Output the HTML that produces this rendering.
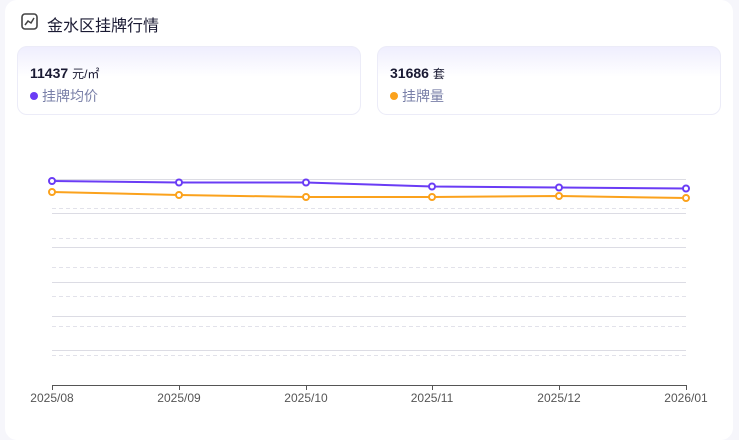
<!DOCTYPE html>
<html><head><meta charset="utf-8"><style>
body{margin:0;width:739px;height:435px;background:#f6f6fb;font-family:"Liberation Sans","Noto Sans CJK SC",sans-serif;overflow:hidden;position:relative}
.card{position:absolute;left:5px;top:0;width:728px;height:440px;background:#fff;border-radius:12px}
.title{position:absolute;left:47px;top:12px;font-size:16px;color:#1a1a33}
.box{position:absolute;top:46px;height:67px;border:1px solid #ececf8;border-radius:10px;background:linear-gradient(#efeefe,#fff 45%)}
.v{position:absolute;left:12px;top:18px;font-size:14px;font-weight:bold;color:#1a1a33}
.v span{font-weight:normal;font-size:12px}
.l{position:absolute;left:12px;top:39px;font-size:14px;color:#7a80a8}
.l i{display:inline-block;width:8px;height:8px;border-radius:50%;margin-right:4px;vertical-align:1px}
</style></head><body>
<div class="card"></div>
<svg width="18" height="18" style="position:absolute;left:21px;top:13px"><rect x="1" y="1" width="15" height="15" rx="3" fill="none" stroke="#444" stroke-width="1.6"/><polyline points="4,12 7,8 10,10 13,5" fill="none" stroke="#444" stroke-width="1.5"/></svg>
<div class="title">金水区挂牌行情</div>
<div class="box" style="left:17px;width:342px"><div class="v">11437 <span>元/㎡</span></div><div class="l"><i style="background:#6a3cf5"></i>挂牌均价</div></div>
<div class="box" style="left:377px;width:342px"><div class="v">31686 <span>套</span></div><div class="l"><i style="background:#fba21c"></i>挂牌量</div></div>
<svg width="739" height="435" style="position:absolute;left:0;top:0">
<g stroke="#dcdce4" stroke-width="1">
<line x1="52" x2="686" y1="179.5" y2="179.5"/><line x1="52" x2="686" y1="213.5" y2="213.5"/><line x1="52" x2="686" y1="247.5" y2="247.5"/><line x1="52" x2="686" y1="282.5" y2="282.5"/><line x1="52" x2="686" y1="316.5" y2="316.5"/><line x1="52" x2="686" y1="350.5" y2="350.5"/>
</g>
<g stroke="#e2e2ea" stroke-width="1" stroke-dasharray="4,3">
<line x1="52" x2="686" y1="208.5" y2="208.5"/><line x1="52" x2="686" y1="238.5" y2="238.5"/><line x1="52" x2="686" y1="267.5" y2="267.5"/><line x1="52" x2="686" y1="296.5" y2="296.5"/><line x1="52" x2="686" y1="326.5" y2="326.5"/><line x1="52" x2="686" y1="355.5" y2="355.5"/>
</g>
<g stroke="#555" stroke-width="1">
<line x1="52" x2="686" y1="385.5" y2="385.5"/>
<line x1="52.5" x2="52.5" y1="385" y2="390"/><line x1="179.5" x2="179.5" y1="385" y2="390"/><line x1="306.5" x2="306.5" y1="385" y2="390"/><line x1="432.5" x2="432.5" y1="385" y2="390"/><line x1="559.5" x2="559.5" y1="385" y2="390"/><line x1="686.5" x2="686.5" y1="385" y2="390"/>
</g>
<g font-size="12" fill="#555" text-anchor="middle" font-family="Liberation Sans,sans-serif">
<text x="52" y="402">2025/08</text><text x="179" y="402">2025/09</text><text x="306" y="402">2025/10</text><text x="432" y="402">2025/11</text><text x="559" y="402">2025/12</text><text x="686" y="402">2026/01</text>
</g>
<polyline points="52,192 179,195 306,197 432,197 559,196 686,198" fill="none" stroke="#fba21c" stroke-width="2"/>
<polyline points="52,181 179,182.5 306,182.5 432,186.5 559,187.5 686,188.5" fill="none" stroke="#6a3cf5" stroke-width="2"/>
<g fill="#fff" stroke="#fba21c" stroke-width="2"><circle cx="52" cy="192" r="3"/><circle cx="179" cy="195" r="3"/><circle cx="306" cy="197" r="3"/><circle cx="432" cy="197" r="3"/><circle cx="559" cy="196" r="3"/><circle cx="686" cy="198" r="3"/></g>
<g fill="#fff" stroke="#6a3cf5" stroke-width="2"><circle cx="52" cy="181" r="3"/><circle cx="179" cy="182.5" r="3"/><circle cx="306" cy="182.5" r="3"/><circle cx="432" cy="186.5" r="3"/><circle cx="559" cy="187.5" r="3"/><circle cx="686" cy="188.5" r="3"/></g>
</svg>
</body></html>
